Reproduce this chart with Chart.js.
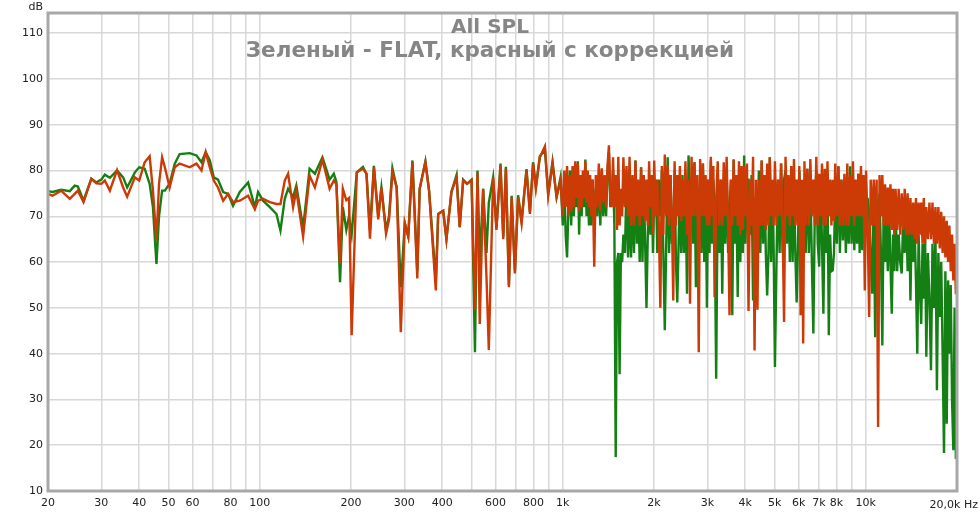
<!DOCTYPE html>
<html>
<head>
<meta charset="utf-8">
<script src="https://cdn.jsdelivr.net/npm/chart.js@4.4.1/dist/chart.umd.min.js"></script>
<style>
  html, body { margin: 0; padding: 0; background: #fff; }
  #wrap { width: 980px; height: 514px; }
</style>
</head>
<body>
<div id="wrap"><canvas id="splChart" width="980" height="514"></canvas></div>
<script>
// frequency points, Hz
var freqs = [
  20, 20.7, 22.1, 23.6, 24.5, 25.1, 26.2, 27.8, 28.9, 30,
  30.8, 32, 33.8, 35.4, 36.5, 38.7, 40, 41.7, 43.3, 44.4,
  45.6, 46.5, 47.6, 48.6, 50.4, 52.4, 54.4, 58.7, 61.8, 64.2,
  66.3, 68.4, 70.5, 72.8, 75.7, 78.6, 81.6, 85.9, 91.5, 96.3,
  98.7, 102.5, 107.9, 113.5, 117, 120.9, 124, 128.8, 132, 139,
  146, 152, 161, 170, 175.5, 179, 184, 188, 193, 197,
  201, 209, 219, 225, 231, 238, 246, 252, 261, 267,
  274, 283, 292, 301, 309, 319, 331, 337, 352, 362,
  381, 388, 403, 413, 429, 446, 457, 469, 483, 500,
  513, 523, 532, 546, 560, 570, 589, 604, 623, 636,
  649, 664, 678, 695, 712, 731, 759, 779, 798, 815,
  840, 873, 895, 925, 954, 983,
  1000, 1011, 1022, 1033, 1044, 1055, 1066, 1077, 1088, 1099, 1110, 1121, 1132, 1143, 1154, 1165, 1176, 1187, 1198, 1209, 1220, 1231, 1242,
  1255, 1270, 1285, 1300, 1315, 1330, 1345, 1360, 1375, 1390, 1405, 1420, 1435, 1450, 1465, 1480, 1495, 1510, 1525, 1540, 1555, 1570, 1585,
  1604, 1623, 1642, 1661, 1680, 1699, 1718, 1737, 1756, 1775, 1794, 1813, 1832, 1851, 1870, 1889, 1908, 1927, 1946, 1965, 1984,
  2003, 2027, 2051, 2075, 2099, 2123, 2147, 2171, 2195, 2219, 2243, 2267, 2291, 2315, 2339, 2363, 2387, 2411, 2435, 2459, 2483,
  2510, 2540, 2570, 2600, 2630, 2660, 2690, 2720, 2750, 2780, 2810, 2840, 2870, 2900, 2930, 2960, 2990, 3020, 3050, 3080, 3110, 3140, 3170,
  3208, 3246, 3284, 3322, 3360, 3398, 3436, 3474, 3512, 3550, 3588, 3626, 3664, 3702, 3740, 3778, 3816, 3854, 3892, 3930, 3968,
  4006, 4054, 4102, 4150, 4198, 4246, 4294, 4342, 4390, 4438, 4486, 4534, 4582, 4630, 4678, 4726, 4774, 4822, 4870, 4918, 4966,
  5014, 5074, 5134, 5194, 5254, 5314, 5374, 5434, 5494, 5554, 5614, 5674, 5734, 5794, 5854, 5914, 5974, 6034, 6094, 6154, 6214, 6274,
  6334, 6410, 6486, 6562, 6638, 6714, 6790, 6866, 6942, 7018, 7094, 7170, 7246, 7322, 7398, 7474, 7550, 7626, 7702, 7778, 7854, 7930,
  8025, 8120, 8215, 8310, 8405, 8500, 8595, 8690, 8785, 8880, 8975, 9070, 9165, 9260, 9355, 9450, 9545, 9640, 9735, 9830, 9925,
  10020, 10140, 10260, 10380, 10500, 10620, 10740, 10860, 10980, 11100, 11220, 11340, 11460, 11580, 11700, 11820, 11940, 12060, 12180, 12300, 12420,
  12540, 12690, 12840, 12990, 13140, 13290, 13440, 13590, 13740, 13890, 14040, 14190, 14340, 14490, 14640, 14790, 14940, 15090, 15240, 15390, 15540, 15690, 15840,
  16030, 16220, 16410, 16600, 16790, 16980, 17170, 17360, 17550, 17740, 17930, 18120, 18310, 18500, 18690, 18880, 19070, 19260, 19450, 19640, 19830, 19950
];

// green - FLAT, dB
var flatSpl = [
  75.5, 75.3, 75.8, 75.5, 76.7, 76.5, 73.4, 78.2, 77.4, 78.0,
  79.1, 78.4, 80.0, 78.5, 76.3, 79.6, 80.7, 80.4, 77.1, 72.0,
  59.6, 70.0, 75.6, 75.6, 77.1, 81.5, 83.6, 83.8, 83.3, 81.8,
  84.0, 82.2, 78.5, 78.0, 75.3, 74.9, 72.3, 75.3, 77.4, 72.0,
  75.3, 73.4, 72.0, 70.5, 66.9, 73.8, 76.0, 74.2, 76.7, 67.5,
  80.4, 79.3, 82.9, 78.0, 79.3, 77.5, 55.6, 72.0, 67.0, 70.0,
  66.0, 79.6, 80.8, 79.3, 67.0, 81.0, 70.0, 76.3, 67.0, 70.0,
  80.5, 76.3, 54.5, 68.5, 65.6, 82.2, 58.0, 76.0, 82.0, 75.6,
  56.0, 70.5, 71.2, 65.0, 75.3, 79.0, 67.6, 78.0, 77.1, 78.0,
  40.3, 80.0, 60.0, 76.0, 62.0, 73.0, 78.5, 67.5, 81.5, 65.5,
  80.8, 55.0, 74.5, 58.0, 74.6, 69.0, 80.3, 71.0, 81.8, 76.5,
  83.1, 84.5, 75.0, 82.0, 74.2, 78.5,
  68, 79, 66, 61, 72, 80, 68, 80, 70, 81, 72, 82, 66, 78, 70, 79, 72, 82.4, 70, 78, 68, 78, 68,
  78, 68, 76, 70, 79, 68, 80, 70, 76, 70, 80, 84, 72, 74, 80, 68, 17.4, 60, 62, 35.5, 62, 60, 66,
  62, 78, 61, 72, 61, 76, 62, 82.2, 64, 74, 60, 80.7, 60, 76, 64, 50, 66, 77.8, 66, 78, 62,
  74, 78, 62, 78, 70, 80, 62, 45.1, 64, 82.9, 62, 79, 64, 66, 80, 60, 51.2, 64, 78, 62, 79,
  62, 76, 53.1, 83.3, 74, 78, 64, 81.8, 54.5, 76, 72, 78, 62, 81.5, 60, 78, 50, 78, 62, 82.2, 64, 78, 70,
  34.5, 76, 62, 78, 53.1, 78, 64, 80, 62, 72, 78, 48.4, 82.4, 64, 74, 52.4, 78, 60, 80, 62, 83.3,
  64, 78, 78, 66, 79, 51.6, 74, 62, 70, 80, 62, 82.2, 64, 79, 62, 52.7, 62, 82.9, 60, 76, 62,
  37.1, 60, 78, 62, 81.5, 62, 78, 80, 64, 78.5, 60, 79, 60, 78, 62, 51.2, 64, 80, 74, 66, 72, 78,
  62, 80.4, 62, 78, 60, 44.4, 72, 80, 64, 59, 79, 64, 48.7, 76, 62, 78, 44, 66, 58, 58.2, 62, 76,
  64, 80.9, 62, 78, 64.7, 76, 62, 74, 64, 80.9, 64, 78, 62.6, 76, 64, 79.3, 62, 78, 62.6, 66, 76,
  66, 74, 70, 62, 53.1, 74, 43.6, 72, 70, 75, 62, 41.8, 74, 60, 70, 58, 72, 60, 48.7, 66, 58,
  73, 58, 66, 60, 57.5, 70, 62, 73, 58, 72, 51.6, 70, 60, 68, 56, 40, 66, 54, 46.5, 64, 52, 66, 39.3,
  62, 52, 36.4, 64, 50, 66, 32, 62, 48, 60, 40, 18.3, 58, 24.7, 56, 40, 55, 30, 18.9, 50, 17, 40
];

// red - with correction, dB
var corrSpl = [
  74.9, 74.5, 75.6, 73.8, 74.9, 75.6, 73.1, 78.2, 77.2, 77.1,
  77.8, 75.6, 80.1, 76.3, 74.3, 78.5, 77.8, 81.8, 83.1, 75.6,
  64.7, 77.1, 82.9, 80.7, 76.3, 80.7, 81.5, 80.7, 81.5, 80.0,
  84.0, 80.7, 77.8, 76.3, 73.4, 74.9, 73.1, 73.4, 74.5, 71.6,
  73.4, 73.8, 73.1, 72.7, 72.7, 77.8, 79.3, 72.0, 75.6, 65.6,
  78.9, 76.3, 82.4, 76.0, 77.8, 77.0, 59.6, 76.0, 73.5, 74.0,
  44.0, 79.6, 80.4, 79.3, 65.1, 80.7, 69.3, 76.3, 66.2, 69.3,
  79.6, 76.3, 44.7, 68.5, 65.6, 81.8, 56.4, 76.0, 81.8, 75.6,
  53.8, 70.5, 71.2, 65.0, 75.3, 78.5, 67.6, 77.8, 77.1, 77.8,
  49.5, 79.5, 46.5, 76.0, 56.7, 40.8, 78.5, 67.0, 81.1, 65.0,
  80.4, 54.5, 74.2, 57.5, 74.2, 68.5, 80.0, 70.5, 81.5, 76.0,
  82.9, 85.3, 74.5, 81.5, 74.2, 77.8,
  70, 80, 72, 81, 70, 79, 71, 81, 72, 82, 74, 81.5, 71, 79, 72, 80, 74, 82, 73, 80, 72, 79, 70,
  78, 59, 79, 72, 81.5, 71, 80.5, 73, 79, 72, 81, 85.5, 74, 72, 82.9, 72, 79, 67, 83, 68, 76, 70, 82.9,
  72, 81, 70, 83, 68, 79, 68, 82.2, 70, 78, 68, 80.7, 70, 79, 69, 78, 68, 82, 72, 79, 66,
  82.2, 70, 78, 68, 50, 81, 66, 83.5, 70, 81, 68, 79, 70, 51.6, 82, 68, 79, 70, 81, 69, 78,
  70, 82, 66, 78, 50.9, 83, 70, 81.8, 70, 79, 40.3, 82.5, 70, 81.5, 70, 79, 68, 78, 68, 83, 70, 81, 52.4,
  74, 82, 68, 78, 68, 81.8, 70, 83, 68, 48.4, 78, 68, 82.4, 70, 79, 68, 82, 66, 81, 67, 81,
  70, 81.5, 49.3, 78, 68, 83, 40.7, 78, 49.6, 78, 68, 82.2, 68, 79, 67, 81.5, 68, 82.9, 70, 78, 68,
  82, 68, 78, 70, 81.5, 68, 46.9, 83, 70, 79, 68, 81, 70, 82.5, 68, 78, 68, 81, 48.4, 78, 42.2, 82,
  68, 80.4, 68, 82.5, 70, 78, 68, 83, 68, 79.3, 70, 81.5, 68, 80.4, 68, 82, 70, 78, 68, 78, 69, 81.5,
  70, 80.9, 68, 78, 68, 79.3, 68, 81.5, 68, 79, 70, 82, 68, 78, 70, 79.3, 70, 81, 70, 79, 53.8,
  80, 68, 48, 78, 68, 78, 68, 78, 24, 79, 70, 79, 68, 77, 68, 76.3, 68, 77, 67, 76, 66,
  76, 67, 76, 66, 75, 67, 76, 66, 75, 66, 74, 66, 73, 65, 74, 64, 73, 66, 73, 64, 74, 64, 72,
  65, 73, 65, 73, 64, 72, 64, 72, 63, 71, 62, 70, 61, 69, 60, 68, 58, 66, 56, 64, 53, 60
];

// axis grid and labels
var gridFreqs = [20, 30, 40, 50, 60, 70, 80, 90, 100, 200, 300, 400, 500, 600, 700, 800, 900,
  1000, 2000, 3000, 4000, 5000, 6000, 7000, 8000, 9000, 10000, 20000];
var labelFreqs = [20, 30, 40, 50, 60, 80, 100, 200, 300, 400, 600, 800,
  1000, 2000, 3000, 4000, 5000, 6000, 7000, 8000, 10000];
var labelTexts = ['20', '30', '40', '50', '60', '80', '100', '200', '300', '400', '600', '800',
  '1k', '2k', '3k', '4k', '5k', '6k', '7k', '8k', '10k'];
var dbTicks = [10, 20, 30, 40, 50, 60, 70, 80, 90, 100, 110];

function toPoints(vals) {
  return freqs.map(function (f, i) { return { x: f, y: vals[i] }; });
}

var overlay = {
  id: 'overlay',
  afterDraw: function (chart) {
    var ctx = chart.ctx, a = chart.chartArea;
    ctx.save();
    ctx.strokeStyle = '#a8a8a8';
    ctx.lineWidth = 3;
    ctx.strokeRect(a.left, a.top, a.right - a.left, a.bottom - a.top);
    ctx.fillStyle = '#868686';
    ctx.textAlign = 'center';
    ctx.font = 'bold 20px "DejaVu Sans"';
    ctx.fillText('All SPL', 490, 33);
    ctx.font = 'bold 21.5px "DejaVu Sans"';
    ctx.fillText('Зеленый - FLAT, красный с коррекцией', 490, 57);
    ctx.fillStyle = '#222';
    ctx.font = '11px "DejaVu Sans"';
    ctx.textAlign = 'right';
    ctx.fillText('dB', 43, 10);
    ctx.fillText('20,0k Hz', 978, 508);
    ctx.restore();
  }
};

var ctx = document.getElementById('splChart').getContext('2d');
var splChart = new Chart(ctx, {
  type: 'line',
  data: {
    datasets: [
      {
        label: 'с коррекцией',
        data: toPoints(corrSpl),
        borderColor: '#cc3a06',
        borderWidth: 2.4,
        pointRadius: 0,
        fill: false
      },
      {
        label: 'FLAT',
        data: toPoints(flatSpl),
        borderColor: '#148014',
        borderWidth: 2.4,
        pointRadius: 0,
        fill: false
      }
    ]
  },
  options: {
    responsive: false,
    animation: false,
    events: [],
    layout: { padding: { top: 13, right: 23, left: 0, bottom: 0 } },
    plugins: { legend: { display: false }, tooltip: { enabled: false } },
    scales: {
      x: {
        type: 'logarithmic',
        min: 20,
        max: 20000,
        afterBuildTicks: function (axis) {
          axis.ticks = gridFreqs.map(function (v) { return { value: v }; });
        },
        afterFit: function (axis) { axis.height = 23; },
        grid: { color: '#d8d8d8', lineWidth: 1.5, drawTicks: false },
        border: { display: false },
        ticks: {
          autoSkip: false,
          maxRotation: 0,
          padding: 6,
          color: '#222',
          font: { family: 'DejaVu Sans', size: 11 },
          callback: function (v) {
            var i = labelFreqs.indexOf(v);
            return i >= 0 ? labelTexts[i] : '';
          }
        }
      },
      y: {
        min: 10,
        max: 114.4,
        afterBuildTicks: function (axis) {
          axis.ticks = dbTicks.map(function (v) { return { value: v }; });
        },
        afterFit: function (axis) { axis.width = 48; },
        grid: { color: '#d8d8d8', lineWidth: 1.5, drawTicks: false },
        border: { display: false },
        ticks: {
          padding: 5,
          color: '#222',
          font: { family: 'DejaVu Sans', size: 11 }
        }
      }
    }
  },
  plugins: [overlay]
});
</script>
</body>
</html>
